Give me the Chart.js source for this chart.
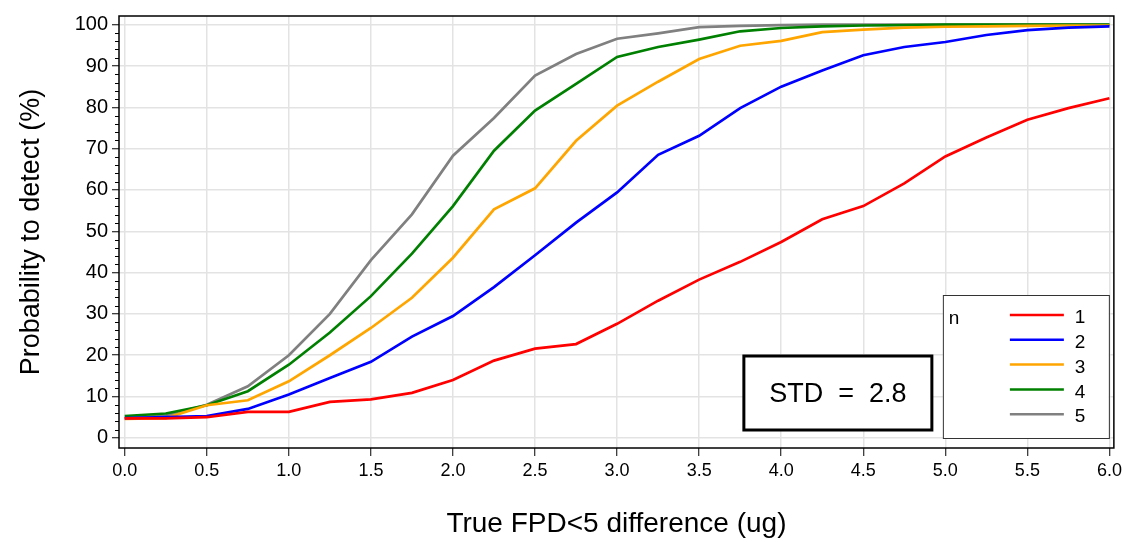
<!DOCTYPE html>
<html>
<head>
<meta charset="utf-8">
<script src="https://cdn.jsdelivr.net/npm/chart.js@4.4.1/dist/chart.umd.min.js"></script>
<style>
  html, body { margin: 0; padding: 0; background: #fff; }
  #wrap { width: 1126px; height: 542px; position: relative; }
</style>
</head>
<body>
<div id="wrap"><canvas id="chart"></canvas></div>
<script>
// true FPD<5 difference (ug)
const xValues = [0, 0.25, 0.5, 0.75, 1, 1.25, 1.5, 1.75, 2, 2.25, 2.5, 2.75, 3,
  3.25, 3.5, 3.75, 4, 4.25, 4.5, 4.75, 5, 5.25, 5.5, 5.75, 6];

// probability to detect (%) for each n
const n1 = [4.7, 4.7, 5.0, 6.3, 6.3, 8.7, 9.3, 10.9, 14.0, 18.7, 21.6, 22.7, 27.6,
  33.2, 38.3, 42.6, 47.4, 52.9, 56.1, 61.6, 68.1, 72.7, 77.0, 79.8, 82.2];
const n2 = [4.8, 5.0, 5.3, 7.0, 10.5, 14.5, 18.4, 24.5, 29.5, 36.5, 44.2, 52.1, 59.4,
  68.5, 73.1, 79.8, 85.0, 88.9, 92.6, 94.6, 95.8, 97.5, 98.7, 99.3, 99.6];
const n3 = [4.6, 4.8, 7.9, 9.1, 13.7, 20.0, 26.6, 33.9, 43.6, 55.3, 60.4, 71.9, 80.4,
  86.2, 91.7, 94.9, 96.1, 98.2, 98.8, 99.3, 99.5, 99.6, 99.7, 99.8, 99.8];
const n4 = [5.3, 5.9, 7.9, 11.3, 17.7, 25.5, 34.3, 44.6, 56.1, 69.5, 79.2, 85.7, 92.2,
  94.6, 96.4, 98.4, 99.2, 99.6, 99.8, 99.9, 100, 100, 100, 100, 100];
const n5 = [4.8, 5.4, 8.0, 12.5, 20.0, 30.0, 43.0, 54.1, 68.3, 77.4, 87.7, 92.9, 96.6,
  97.9, 99.4, 99.7, 99.9, 100, 100, 100, 100, 100, 100, 100, 100];

const seriesLabels = ['1', '2', '3', '4', '5'];
const seriesData = [n1, n2, n3, n4, n5];
const seriesColors = ['#ff0000', '#0000ff', '#ffa500', '#008000', '#808080'];

const xTicks = [0, 0.5, 1, 1.5, 2, 2.5, 3, 3.5, 4, 4.5, 5, 5.5, 6];
const yTicks = [0, 10, 20, 30, 40, 50, 60, 70, 80, 90, 100];
const yMinorTicks = [];
for (let v = 0; v <= 100; v += 2) yMinorTicks.push(v);

const legendTitle = 'n';
const noteText = 'STD  =  2.8';

const FONT = '"Liberation Sans", Arial, sans-serif';

// frame, minor ticks, note box and legend
const decorations = {
  id: 'decorations',
  afterDraw(chart) {
    const { ctx, chartArea: a, scales } = chart;
    ctx.save();

    // frame around plot area
    ctx.strokeStyle = '#000';
    ctx.lineWidth = 1.5;
    ctx.strokeRect(a.left, a.top, a.right - a.left, a.bottom - a.top);

    // short minor ticks on the y axis
    ctx.lineWidth = 1;
    ctx.beginPath();
    yMinorTicks.forEach(v => {
      if (v % 10 === 0) return;
      const y = Math.round(scales.y.getPixelForValue(v)) + 0.5;
      ctx.moveTo(a.left - 4, y);
      ctx.lineTo(a.left, y);
    });
    ctx.stroke();

    // note box
    const bx = a.right - 370, by = a.bottom - 92, bw = 188, bh = 74;
    ctx.fillStyle = '#fff';
    ctx.fillRect(bx, by, bw, bh);
    ctx.lineWidth = 3;
    ctx.strokeStyle = '#000';
    ctx.strokeRect(bx, by, bw, bh);
    ctx.fillStyle = '#000';
    ctx.font = '27px ' + FONT;
    ctx.textAlign = 'center';
    ctx.textBaseline = 'middle';
    ctx.fillText(noteText, bx + bw / 2, by + bh / 2 + 2);

    // legend
    const lx = a.right - 171, ly = a.bottom - 153, lw = 166, lh = 143;
    ctx.fillStyle = '#fff';
    ctx.fillRect(lx, ly, lw, lh);
    ctx.lineWidth = 1;
    ctx.strokeStyle = '#333';
    ctx.strokeRect(lx + 0.5, ly + 0.5, lw, lh);
    ctx.font = '19px ' + FONT;
    ctx.textAlign = 'left';
    ctx.fillStyle = '#000';
    ctx.fillText(legendTitle, lx + 6, ly + 24);
    chart.data.datasets.forEach((ds, i) => {
      const y = ly + 20 + i * 24.8;
      ctx.strokeStyle = ds.borderColor;
      ctx.lineWidth = 2.5;
      ctx.beginPath();
      ctx.moveTo(lx + 67, y);
      ctx.lineTo(lx + 121, y);
      ctx.stroke();
      ctx.fillStyle = '#000';
      ctx.fillText(ds.label, lx + 132, y + 3);
    });

    ctx.restore();
  }
};

new Chart(document.getElementById('chart'), {
  type: 'line',
  data: {
    datasets: seriesData.map((vals, i) => ({
      label: seriesLabels[i],
      data: vals.map((v, j) => ({ x: xValues[j], y: v })),
      borderColor: seriesColors[i],
      backgroundColor: seriesColors[i],
      borderWidth: 2.7,
      pointRadius: 0,
      tension: 0,
      fill: false
    }))
  },
  options: {
    responsive: true,
    maintainAspectRatio: false,
    animation: false,
    layout: { padding: { left: 0, top: 8, right: 11, bottom: 0 } },
    plugins: {
      legend: { display: false },
      tooltip: { enabled: false }
    },
    scales: {
      x: {
        type: 'linear',
        min: -0.035,
        max: 6.027,
        afterBuildTicks: scale => { scale.ticks = xTicks.map(v => ({ value: v })); },
        afterFit: scale => { scale.height = 94; },
        border: { display: false },
        grid: {
          color: '#e3e3e3',
          lineWidth: 1.5,
          tickColor: '#000',
          tickWidth: 1,
          tickLength: 8
        },
        ticks: {
          color: '#000',
          font: { family: FONT, size: 18 },
          padding: 4,
          maxRotation: 0,
          autoSkip: false,
          callback: v => v.toFixed(1)
        },
        title: {
          display: true,
          text: 'True FPD<5 difference (ug)',
          color: '#000',
          font: { family: FONT, size: 28 },
          padding: { top: 0, bottom: 1 }
        }
      },
      y: {
        min: -2.45,
        max: 102.1,
        afterBuildTicks: scale => { scale.ticks = yTicks.map(v => ({ value: v })); },
        afterFit: scale => { scale.width = 119; },
        border: { display: false },
        grid: {
          color: '#e3e3e3',
          lineWidth: 1.5,
          tickColor: '#000',
          tickWidth: 1,
          tickLength: 7
        },
        ticks: {
          color: '#000',
          font: { family: FONT, size: 20 },
          padding: 4,
          autoSkip: false,
          callback: v => String(v)
        },
        title: {
          display: true,
          text: 'Probability to detect (%)',
          color: '#000',
          font: { family: FONT, size: 27 },
          padding: { top: 15, bottom: 0 }
        }
      }
    }
  },
  plugins: [decorations]
});
</script>
</body>
</html>
